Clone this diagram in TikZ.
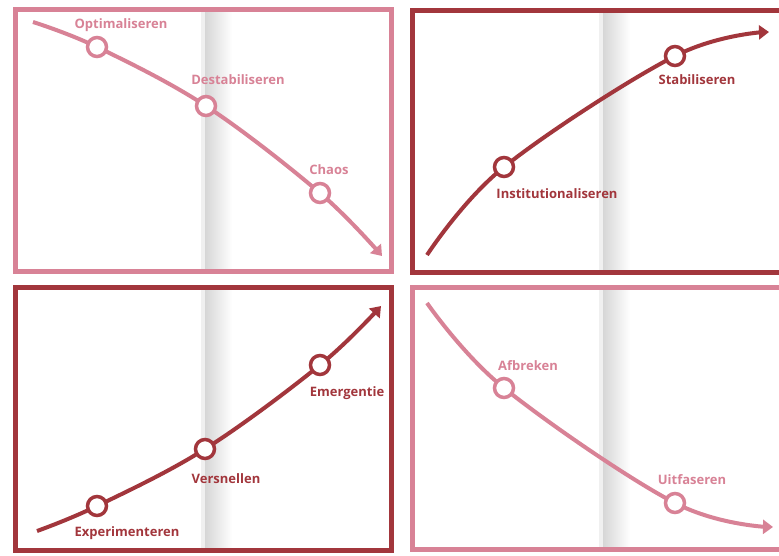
\documentclass[tikz,border=0pt]{standalone}
\usepackage{fontspec}
\setmainfont{Open Sans}
\usetikzlibrary{arrows.meta}
\definecolor{pinkc}{RGB}{216,130,150}
\definecolor{redc}{RGB}{162,54,60}
\tikzset{
  frame/.style={line width=5pt},
  curve/.style={line width=4pt, -{Triangle[length=10pt,width=14pt]}},
  dot/.style={circle, fill=white, line width=3.5pt, minimum size=19pt, inner sep=0pt},
  lbl/.style={font=\bfseries\fontsize{13}{15}\selectfont, inner sep=0pt},
  gutter/.style={left color=black!16, right color=white, draw=none},
}
\begin{document}
\begin{tikzpicture}[x=1pt,y=-1pt]
\useasboundingbox (0,0) rectangle (779,555);
\fill[white] (0,0) rectangle (779,555);
% gutters
\shade[gutter] (205,12) rectangle (232,269);
\shade[gutter] (603,12) rectangle (630,270);
\shade[gutter] (205,289) rectangle (232,548);
\shade[gutter] (603,289) rectangle (630,547);
\fill[black!6] (201,12) rectangle (205,269);
\fill[black!6] (599,12) rectangle (603,270);
\fill[black!6] (201,289) rectangle (205,548);
\fill[black!6] (599,289) rectangle (603,547);
% frames
\draw[frame, pinkc] (15.5,9.5) rectangle (391.5,271);
\draw[frame, redc] (412.5,10) rectangle (790,272);
\draw[frame, redc] (15.5,287) rectangle (391.5,550);
\draw[frame, pinkc] (412.5,287) rectangle (790,549);

% panel 1
\coordinate (s1) at (33,22);
\coordinate (e1) at (382,256);
\coordinate (opt) at (97,47);
\coordinate (dest) at (206,106);
\coordinate (chaos) at (320,193);
\draw[curve, pinkc] plot[smooth, tension=0.6] coordinates {(s1) (opt) (dest) (chaos) (e1)};
\node[dot, draw=pinkc] (nopt) at (opt) {};
\node[dot, draw=pinkc] (ndest) at (dest) {};
\node[dot, draw=pinkc] (nchaos) at (chaos) {};
\node[lbl, pinkc] (lopt) at (121,25) {Optimaliseren};
\node[lbl, pinkc] (ldest) at (238,80) {Destabiliseren};
\node[lbl, pinkc] (lchaos) at (329,170) {Chaos};

% panel 2
\coordinate (s2) at (427,255);
\coordinate (e2) at (769,32);
\coordinate (inst) at (504,167);
\coordinate (stab) at (675,56);
\draw[curve, redc] plot[smooth, tension=0.6] coordinates {(s2) (inst) (stab) (e2)};
\node[dot, draw=redc] (ninst) at (inst) {};
\node[dot, draw=redc] (nstab) at (stab) {};
\node[lbl, redc] (linst) at (557,194) {Institutionaliseren};
\node[lbl, redc] (lstab) at (697,80) {Stabiliseren};

% panel 3
\coordinate (s3) at (37,531);
\coordinate (e3) at (381,306);
\coordinate (exp) at (97,506);
\coordinate (vers) at (205,449);
\coordinate (emer) at (320,365);
\draw[curve, redc] plot[smooth, tension=0.6] coordinates {(s3) (exp) (vers) (emer) (e3)};
\node[dot, draw=redc] (nexp) at (exp) {};
\node[dot, draw=redc] (nvers) at (vers) {};
\node[dot, draw=redc] (nemer) at (emer) {};
\node[lbl, redc] (lexp) at (127,533) {Experimenteren};
\node[lbl, redc] (lvers) at (226,479) {Versnellen};
\node[lbl, redc] (lemer) at (347,393) {Emergentie};

% panel 4
\coordinate (s4) at (427,303);
\coordinate (e4) at (773,527);
\coordinate (afb) at (504,388);
\coordinate (uitf) at (675,503);
\draw[curve, pinkc] plot[smooth, tension=0.6] coordinates {(s4) (afb) (uitf) (e4)};
\node[dot, draw=pinkc] (nafb) at (afb) {};
\node[dot, draw=pinkc] (nuitf) at (uitf) {};
\node[lbl, pinkc] (lafb) at (528,366) {Afbreken};
\node[lbl, pinkc] (luitf) at (692,480) {Uitfaseren};
\end{tikzpicture}
\end{document}
